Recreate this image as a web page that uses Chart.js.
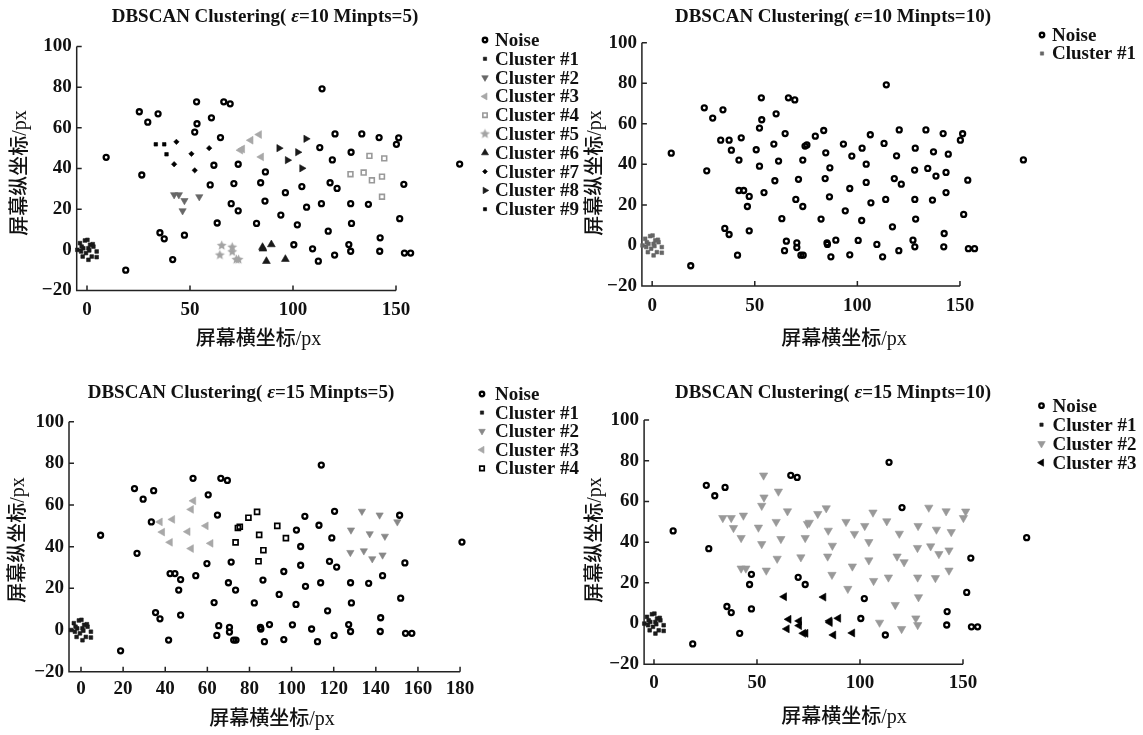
<!DOCTYPE html>
<html>
<head>
<meta charset="utf-8">
<script src="https://cdn.jsdelivr.net/npm/chart.js@4.4.1/dist/chart.umd.min.js"></script>
<style>
  html, body { margin: 0; padding: 0; background: #fff; }
  #wrap { position: relative; width: 1143px; height: 735px; }
  #wrap canvas { position: absolute; left: 0; top: 0; }
</style>
</head>
<body>
<div id="wrap">
  <canvas id="c1" width="1143" height="735"></canvas>
  <canvas id="c2" width="1143" height="735"></canvas>
  <canvas id="c3" width="1143" height="735"></canvas>
  <canvas id="c4" width="1143" height="735"></canvas>
</div>
<script>
// screen points, numbered 1..103 (same points in every panel)
const pointX = [180.9, 114.1, 66.4, 69.5, 53.2, 25.4, 34.5, 29.5, 60.4, 53.4,
  52.3, 64.8, 83.6, 79.5, 106.3, 120.4, 133.4, 141.8, 151.3, 150.2,
  33.4, 37.5, 43.4, 38.6, 50.7, 59.3, 74.5, 75.4, 84.6, 93.2,
  102.3, 113.0, 97.3, 119.1, 128.2, 137.1, 144.3, 42.3, 52.3, 61.6,
  73.4, 86.6, 104.3, 134.3, 127.9, 138.3, 143.2, 153.8, 26.6, 59.8,
  71.3, 84.3, 104.3, 118.0, 121.4, 42.3, 44.6, 47.3, 54.5, 96.3,
  143.2, 46.4, 70.0, 73.4, 86.4, 106.6, 113.8, 128.0, 136.6, 94.1,
  151.8, 63.2, 82.3, 102.1, 128.4, 117.1, 142.3, 35.4, 37.5, 47.3,
  65.4, 70.5, 70.5, 85.2, 85.4, 89.5, 100.4, 109.5, 127.1, 128.0,
  142.1, 154.1, 157.1, 64.5, 120.2, 41.6, 72.5, 73.6, 87.1, 96.3,
  112.3, 18.8, 9.3];
const pointY = [42.2, 79.2, 72.8, 71.8, 72.8, 67.9, 66.9, 62.8, 64.9, 62.0,
  57.9, 55.2, 56.7, 53.9, 54.6, 57.0, 57.0, 55.2, 55.1, 51.9,
  51.9, 51.9, 53.1, 47.0, 47.2, 50.0, 49.0, 49.6, 45.7, 50.0,
  48.0, 50.3, 44.1, 44.2, 48.0, 46.2, 45.0, 42.1, 39.1, 41.6,
  42.1, 38.3, 40.1, 38.0, 37.2, 34.2, 36.0, 32.2, 36.8, 31.9,
  32.6, 33.0, 31.1, 33.0, 30.2, 27.1, 27.1, 24.2, 26.1, 28.1,
  26.1, 19.2, 22.7, 19.2, 24.0, 21.0, 22.7, 22.7, 22.4, 17.1,
  15.3, 13.2, 13.0, 12.3, 13.0, 9.2, 5.9, 8.4, 5.4, 7.2,
  2.1, 1.3, -1.0, 1.3, 0.5, 2.6, 2.5, 0.5, 2.6, -0.7,
  -0.7, -1.6, -1.6, -2.6, -2.6, -4.8, -4.8, -4.8, -5.6, -4.6,
  -5.6, -10.0, 45.5];
// the tight group at the origin (Cluster #1 in every panel)
const originX = [-3.4, -1.0, 0.2, 1.5, 2.8, -1.8, -4.7, -2.9, 0.7, -0.5, -2.1, 0.7, 2.3, 4.7, 4.7, -2.6, 1.1, 3.1];
const originY = [3.3, 4.6, 4.9, 2.5, 2.8, 0.8, 0.0, -0.8, 0.8, -1.6, -3.3, -4.9, -3.3, -0.8, -3.6, 1.6, -0.3, 1.6];

// cluster members (point numbers) from Cluster #2 on; everything not listed is noise
const clustersEps10Min5 = [
  [56, 57, 58, 62, 59],
  [27, 28, 14, 13, 29],
  [36, 37, 45, 44, 46, 47, 61],
  [81, 82, 83, 94, 97, 98],
  [84, 85, 86, 99, 100],
  [23, 38, 25, 39, 26],
  [30, 15, 31, 33, 43],
  [21, 22, 24]
];
const clustersEps10Min10 = [];
const clustersEps15Min5 = [
  [17, 18, 20, 35, 36, 37, 45, 44, 46, 47],
  [10, 11, 22, 23, 24, 25, 26, 38, 39, 40],
  [13, 14, 27, 28, 29, 41, 42, 52, 30, 33]
];
const clustersEps15Min10 = [
  [5, 9, 10, 11, 12, 13, 14, 15, 17, 18, 19, 20, 21, 22, 23, 24, 25, 26, 27, 28,
   29, 30, 31, 32, 33, 34, 35, 36, 37, 38, 39, 40, 41, 42, 43, 44, 45, 46, 47,
   50, 51, 52, 53, 54, 55, 56, 57, 59, 60, 61, 65, 66, 67, 68, 69, 70, 75, 76,
   88, 89, 90, 95],
  [72, 73, 81, 82, 83, 84, 85, 86, 94, 97, 98, 99, 100]
];

const namesA = ['Noise', 'Cluster #1', 'Cluster #2', 'Cluster #3', 'Cluster #4', 'Cluster #5',
  'Cluster #6', 'Cluster #7', 'Cluster #8', 'Cluster #9'];
const namesB = ['Noise', 'Cluster #1'];
const namesC = ['Noise', 'Cluster #1', 'Cluster #2', 'Cluster #3', 'Cluster #4'];
const namesD = ['Noise', 'Cluster #1', 'Cluster #2', 'Cluster #3'];

const titleA = ['DBSCAN Clustering( ', 'ε', '=10 Minpts=5)'];
const titleB = ['DBSCAN Clustering( ', 'ε', '=10 Minpts=10)'];
const titleC = ['DBSCAN Clustering( ', 'ε', '=15 Minpts=5)'];
const titleD = ['DBSCAN Clustering( ', 'ε', '=15 Minpts=10)'];
const xTitle = '屏幕横坐标/px';
const yTitle = '屏幕纵坐标/px';

const xTicks150 = [0, 50, 100, 150];
const xTicks180 = [0, 20, 40, 60, 80, 100, 120, 140, 160, 180];
const yTicks = [-20, 0, 20, 40, 60, 80, 100];

const W = 1143, H = 735;
const SERIF = '"Liberation Serif", "Times New Roman", serif';
const INK = '#111';

function makeStar(color, r) {
  const c = document.createElement('canvas');
  const size = Math.ceil(r * 2 + 2);
  c.width = c.height = size;
  const g = c.getContext('2d');
  g.fillStyle = color;
  g.beginPath();
  for (let i = 0; i < 10; i++) {
    const a = -Math.PI / 2 + i * Math.PI / 5;
    const rr = i % 2 ? r * 0.45 : r;
    g.lineTo(size / 2 + rr * Math.cos(a), size / 2 + rr * Math.sin(a));
  }
  g.closePath();
  g.fill();
  return c;
}

function mark(style, radius, fill, stroke, width, rotation) {
  return {
    pointStyle: style, pointRadius: radius, pointHoverRadius: radius,
    pointBackgroundColor: fill, pointBorderColor: stroke,
    pointBorderWidth: width, pointRotation: rotation || 0
  };
}
const noiseMark = mark('circle', 2.5, 'rgba(0,0,0,0)', '#000', 2.3);
const originMark = c => mark('rect', 2.6, c, c, 0.6);

const stylesA = [
  noiseMark, originMark('#1a1a1a'),
  mark('triangle', 4.2, '#686868', '#686868', 0.6, 180),
  mark('triangle', 4.5, '#a8a8a8', '#a8a8a8', 0.6, 270),
  mark('rect', 3.4, 'rgba(0,0,0,0)', '#999', 1.6),
  mark(makeStar('#a3a3a3', 5.2), 5.2, '#a3a3a3', '#a3a3a3', 0),
  mark('triangle', 4.5, '#1a1a1a', '#1a1a1a', 0.6, 0),
  mark('rectRot', 2.7, '#000', '#000', 0.6),
  mark('triangle', 4.2, '#1a1a1a', '#1a1a1a', 0.6, 90),
  mark('rect', 2.5, '#000', '#000', 0.6)
];
const stylesB = [noiseMark, originMark('#666')];
const stylesC = [
  noiseMark, originMark('#1a1a1a'),
  mark('triangle', 4.2, '#888', '#888', 0.6, 180),
  mark('triangle', 4.5, '#a8a8a8', '#a8a8a8', 0.6, 270),
  mark('rect', 3.5, 'rgba(0,0,0,0)', '#000', 1.7)
];
const stylesD = [
  noiseMark, originMark('#1a1a1a'),
  mark('triangle', 4.8, '#999', '#999', 0.6, 180),
  mark('triangle', 4.6, '#000', '#000', 0.6, 270)
];

function buildDatasets(clusterLists, names, styles) {
  const taken = new Set(clusterLists.flat());
  const noise = [];
  pointX.forEach((x, i) => { if (!taken.has(i + 1)) noise.push({ x, y: pointY[i] }); });
  const origin = originX.map((x, i) => ({ x, y: originY[i] }));
  const groups = [noise, origin].concat(clusterLists.map(list =>
    list.map(n => ({ x: pointX[n - 1], y: pointY[n - 1] }))));
  return groups.map((data, k) => Object.assign({ label: names[k], data, clip: false }, styles[k]));
}

const panelPlugin = {
  id: 'panel',
  beforeDatasetsDraw(chart, args, o) {
    const ctx = chart.ctx, xs = chart.scales.x, ys = chart.scales.y;
    const x0 = xs.left, yb = ys.bottom;
    ctx.save();
    ctx.strokeStyle = '#222';
    ctx.lineWidth = 1.5;
    ctx.beginPath();
    ctx.moveTo(x0, ys.top);
    ctx.lineTo(x0, yb);
    ctx.lineTo(xs.getPixelForValue(o.axisEnd), yb);
    o.xTicks.forEach(v => {
      const p = xs.getPixelForValue(v);
      ctx.moveTo(p, yb); ctx.lineTo(p, yb - 5);
    });
    yTicks.forEach(v => {
      const p = ys.getPixelForValue(v);
      ctx.moveTo(x0, p); ctx.lineTo(x0 + 5, p);
    });
    ctx.stroke();
    ctx.restore();
  },
  afterDraw(chart, args, o) {
    const ctx = chart.ctx;
    ctx.save();
    ctx.fillStyle = INK;
    ctx.textBaseline = 'middle';

    // title, epsilon in italic
    const fonts = o.title.map((t, i) => (i === 1 ? 'italic ' : '') + 'bold 19px ' + SERIF);
    const widths = o.title.map((t, i) => { ctx.font = fonts[i]; return ctx.measureText(t).width; });
    let tx = o.titleX - widths.reduce((a, b) => a + b, 0) / 2;
    ctx.textAlign = 'left';
    o.title.forEach((t, i) => { ctx.font = fonts[i]; ctx.fillText(t, tx, o.titleY); tx += widths[i]; });

    // axis titles
    ctx.font = '500 20px ' + SERIF + ', "Noto Sans CJK SC"';
    ctx.textAlign = 'center';
    ctx.fillText(xTitle, o.xTitleX, o.xTitleY);
    ctx.save();
    ctx.translate(o.yTitleX, o.yTitleY);
    ctx.rotate(-Math.PI / 2);
    ctx.fillText(yTitle, 0, 0);
    ctx.restore();

    // legend
    ctx.font = 'bold 19px ' + SERIF;
    ctx.textAlign = 'left';
    chart.data.datasets.forEach((ds, i) => {
      const y = o.legendY + i * o.legendStep;
      ctx.save();
      ctx.fillStyle = ds.pointBackgroundColor;
      ctx.strokeStyle = ds.pointBorderColor;
      ctx.lineWidth = ds.pointBorderWidth;
      Chart.helpers.drawPoint(ctx, {
        pointStyle: ds.pointStyle, radius: ds.pointRadius * 0.9,
        rotation: ds.pointRotation, borderWidth: ds.pointBorderWidth
      }, o.markerX, y);
      ctx.restore();
      ctx.fillText(ds.label, o.textX, y + 1);
    });
    ctx.restore();
  }
};

function makePanel(p) {
  const tickFont = { family: SERIF, size: 19, weight: 'bold' };
  return new Chart(document.getElementById(p.id), {
    type: 'scatter',
    data: { datasets: p.datasets },
    options: {
      responsive: false,
      animation: false,
      devicePixelRatio: 1,
      layout: { padding: { left: p.L - 60, top: p.T, right: W - p.R, bottom: H - p.B - 40 } },
      scales: {
        x: {
          type: 'linear', min: p.xMin, max: 185,
          afterBuildTicks: s => { s.ticks = p.xTicks.map(v => ({ value: v })); },
          afterFit: s => { s.height = 40; },
          grid: { display: false, drawTicks: false },
          border: { display: false },
          ticks: { font: tickFont, color: INK, padding: p.xPad, maxRotation: 0, autoSkip: false }
        },
        y: {
          type: 'linear', min: -20, max: 100,
          afterBuildTicks: s => { s.ticks = yTicks.map(v => ({ value: v })); },
          afterFit: s => { s.width = 60; },
          grid: { display: false, drawTicks: false },
          border: { display: false },
          ticks: {
            font: tickFont, color: INK, padding: 5, autoSkip: false,
            callback: v => String(v).replace('-', '\u2212')
          }
        }
      },
      plugins: {
        legend: { display: false },
        tooltip: { enabled: false },
        panel: p.panel
      }
    },
    plugins: [panelPlugin]
  });
}

makePanel({
  id: 'c1', xMin: -5, L: 76.7, R: 468.1, T: 46.5, B: 290.5, xPad: 8, xTicks: xTicks150,
  datasets: buildDatasets(clustersEps10Min5, namesA, stylesA),
  panel: { title: titleA, titleX: 265, titleY: 17, axisEnd: 150, xTicks: xTicks150,
    xTitleX: 258.5, xTitleY: 340, yTitleX: 21, yTitleY: 173,
    markerX: 485, textX: 495, legendY: 40, legendStep: 18.8 }
});
makePanel({
  id: 'c2', xMin: -5, L: 641.9, R: 1031.8, T: 42.7, B: 286, xPad: 9, xTicks: xTicks150,
  datasets: buildDatasets(clustersEps10Min10, namesB, stylesB),
  panel: { title: titleB, titleX: 833, titleY: 17, axisEnd: 150, xTicks: xTicks150,
    xTitleX: 844, xTitleY: 340, yTitleX: 595.6, yTitleY: 173,
    markerX: 1042, textX: 1052, legendY: 35, legendStep: 18.5 }
});
makePanel({
  id: 'c3', xMin: -5.7, L: 69, R: 470.6, T: 421.7, B: 671.7, xPad: 6, xTicks: xTicks180,
  datasets: buildDatasets(clustersEps15Min5, namesC, stylesC),
  panel: { title: titleC, titleX: 241, titleY: 393.3, axisEnd: 180, xTicks: xTicks180,
    xTitleX: 272, xTitleY: 720, yTitleX: 18.5, yTitleY: 540,
    markerX: 482, textX: 495, legendY: 394, legendStep: 18.6 }
});
makePanel({
  id: 'c4', xMin: -4.8, L: 644.1, R: 1035.1, T: 420, B: 664.3, xPad: 7, xTicks: xTicks150,
  datasets: buildDatasets(clustersEps15Min10, namesD, stylesD),
  panel: { title: titleD, titleX: 833, titleY: 393, axisEnd: 150, xTicks: xTicks150,
    xTitleX: 844, xTitleY: 718, yTitleX: 595.6, yTitleY: 540,
    markerX: 1041.5, textX: 1052.5, legendY: 405.7, legendStep: 19 }
});
</script>
</body>
</html>
